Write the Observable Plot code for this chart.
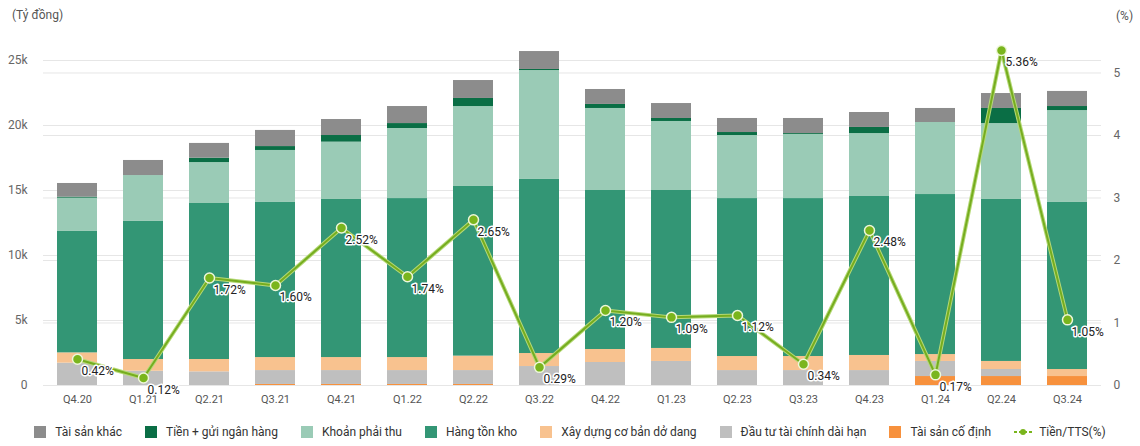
<!DOCTYPE html>
<html>
<head>
<meta charset="utf-8">
<script src="https://cdn.jsdelivr.net/npm/d3@7"></script>
<script src="https://cdn.jsdelivr.net/npm/@observablehq/plot@0.6"></script>
<style>
  html, body { margin: 0; padding: 0; background: #fff; }
  body { width: 1140px; height: 446px; overflow: hidden; font-family: Roboto, "Noto Sans", sans-serif; }
  #wrap { position: relative; width: 1140px; height: 446px; }
  .unit { position: absolute; font-size: 12px; color: #555; }
  #legend { position: absolute; left: 0; top: 421px; width: 1140px; height: 22px; display: flex; justify-content: center; align-items: center; gap: 23px; font-size: 12px; color: #333; }
  .item { display: flex; align-items: center; white-space: nowrap; }
  .sw { width: 12px; height: 12px; margin-right: 9px; }
</style>
</head>
<body>
<div id="wrap">
  <div id="chart"></div>
  <div class="unit" style="left:12px; top:8px;">(Tỷ đồng)</div>
  <div class="unit" style="left:1116px; top:9px;">(%)</div>
  <div id="legend"></div>
</div>
<script>
const quarters = ["Q4.20","Q1.21","Q2.21","Q3.21","Q4.21","Q1.22","Q2.22","Q3.22","Q4.22","Q1.23","Q2.23","Q3.23","Q4.23","Q1.24","Q2.24","Q3.24"];

// Values in tỷ đồng (bottom-to-top stack order)
const taiSanCoDinh   = [0, 0, 0, 80, 80, 80, 80, 0, 0, 0, 0, 0, 0, 690, 690, 690];
const dauTuTaiChinh  = [1720, 1100, 1050, 1070, 1070, 1070, 1070, 1460, 1770, 1850, 1150, 1150, 1150, 1160, 540, 0];
const xayDungCoBan   = [790, 900, 950, 1000, 1000, 1000, 1110, 1000, 1000, 1000, 1080, 1080, 1160, 530, 620, 540];
const hangTonKho     = [9340, 10620, 12000, 11930, 12160, 12230, 13050, 13390, 12230, 12150, 12150, 12150, 12230, 12310, 12460, 12850];
const khoanPhaiThu   = [2560, 3530, 3150, 4000, 4410, 5390, 6150, 8380, 6310, 5310, 4850, 4930, 4840, 5540, 5840, 7070];
const tienGuiNH      = [80, 0, 340, 300, 510, 380, 620, 80, 310, 230, 230, 70, 470, 0, 1160, 310];
const taiSanKhac     = [1050, 1160, 1130, 1240, 1230, 1310, 1380, 1380, 1150, 1150, 1080, 1160, 1150, 1080, 1150, 1160];

// Tiền / Tổng tài sản (%)
const tienTTS = [0.42, 0.12, 1.72, 1.60, 2.52, 1.74, 2.65, 0.29, 1.20, 1.09, 1.12, 0.34, 2.48, 0.17, 5.36, 1.05];

const seriesNames = ["Tài sản cố định", "Đầu tư tài chính dài hạn", "Xây dựng cơ bản dở dang", "Hàng tồn kho", "Khoản phải thu", "Tiền + gửi ngân hàng", "Tài sản khác"];
const seriesValues = [taiSanCoDinh, dauTuTaiChinh, xayDungCoBan, hangTonKho, khoanPhaiThu, tienGuiNH, taiSanKhac];
const seriesColors = ["#f7913d", "#bfbfbf", "#f8c28f", "#339675", "#9acbb6", "#0a6e45", "#8c8c8c"];

const leftTicks = [0, 5000, 10000, 15000, 20000, 25000];
const rightTicks = [0, 1, 2, 3, 4, 5];

const K = 4808; // tỷ đồng per 1% on the shared pixel scale
const yMax = 27308;

const rows = [];
quarters.forEach((q, i) => {
  seriesNames.forEach((s, j) => rows.push({q, s, v: seriesValues[j][i]}));
});
const pct = quarters.map((q, i) => ({q, p: tienTTS[i]}));

const chart = Plot.plot({
  width: 1140,
  height: 418,
  marginLeft: 43,
  marginRight: 39,
  marginTop: 30,
  marginBottom: 33,
  style: {fontFamily: "Roboto, sans-serif", background: "#fff"},
  x: {type: "band", domain: quarters, paddingInner: 0.4, paddingOuter: 0.2, axis: null},
  y: {domain: [0, yMax], axis: null},
  color: {domain: seriesNames, range: seriesColors},
  marks: [
    Plot.gridY(leftTicks, {stroke: "#e6e6e6", strokeOpacity: 1}),
    Plot.gridY(rightTicks.map(v => v * K), {stroke: "#e6e6e6", strokeOpacity: 1}),
    Plot.axisY(leftTicks, {anchor: "left", tickSize: 0, tickPadding: 16, label: null, fontSize: 12, fill: "#666",
      tickFormat: d => d === 0 ? "0" : (d / 1000) + "k"}),
    Plot.axisY(rightTicks.map(v => v * K), {anchor: "right", tickSize: 0, tickPadding: 12, label: null, fontSize: 12, fill: "#666",
      tickFormat: d => String(Math.round(d / K))}),
    Plot.axisX(quarters, {anchor: "bottom", tickSize: 0, tickPadding: 10, label: null, fontSize: 11, fill: "#555"}),
    Plot.barY(rows, {x: "q", y: "v", fill: "s", order: seriesNames}),
    Plot.line(pct, {x: "q", y: d => d.p * K, stroke: "#b5d977", strokeWidth: 4}),
    Plot.line(pct, {x: "q", y: d => d.p * K, stroke: "#76ad1f", strokeWidth: 2}),
    Plot.dot(pct, {x: "q", y: d => d.p * K, r: 5, fill: "#7ab51d", stroke: "#eef7da", strokeWidth: 1.5}),
    Plot.text(pct, {x: "q", y: d => d.p * K, text: d => d.p.toFixed(2) + "%", dx: 4, dy: 12, textAnchor: "start",
      fontSize: 12, fill: "#222", stroke: "white", strokeWidth: 3})
  ]
});
document.getElementById("chart").appendChild(chart);

// Legend
const legendItems = [
  ["Tài sản khác", "#8c8c8c"],
  ["Tiền + gửi ngân hàng", "#0a6e45"],
  ["Khoản phải thu", "#9acbb6"],
  ["Hàng tồn kho", "#339675"],
  ["Xây dựng cơ bản dở dang", "#f8c28f"],
  ["Đầu tư tài chính dài hạn", "#bfbfbf"],
  ["Tài sản cố định", "#f7913d"]
];
const legend = document.getElementById("legend");
legendItems.forEach(([name, color]) => {
  const it = document.createElement("div");
  it.className = "item";
  it.innerHTML = `<div class="sw" style="background:${color}"></div><span>${name}</span>`;
  legend.appendChild(it);
});
const lineItem = document.createElement("div");
lineItem.className = "item";
lineItem.innerHTML = `<svg width="18" height="10" style="margin-right:7px"><line x1="0" y1="5" x2="18" y2="5" stroke="#7ab51d" stroke-width="2" stroke-dasharray="3,2"/><circle cx="9" cy="5" r="3" fill="#7ab51d"/></svg><span>Tiền/TTS(%)</span>`;
legend.appendChild(lineItem);
</script>
</body>
</html>
